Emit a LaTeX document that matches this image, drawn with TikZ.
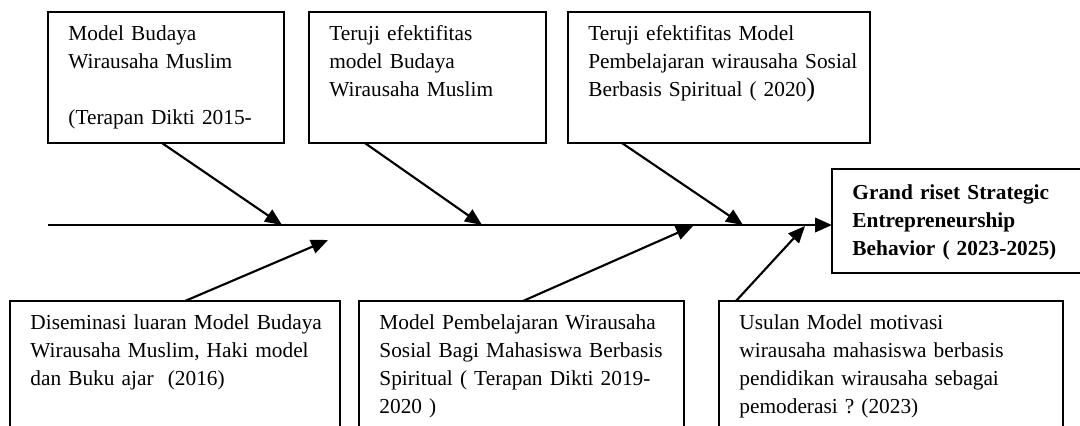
\documentclass[tikz,border=0pt]{standalone}
\usepackage{fontspec}
\setmainfont{Liberation Serif}
\usetikzlibrary{positioning, calc, arrows.meta}
\frenchspacing

\begin{document}
\begin{tikzpicture}[x=0.5625pt, y=-0.5625pt,
    fishbox/.style={draw, line width=0.9pt, inner sep=0pt, outer sep=0pt,
        align=left, font=\fontsize{12}{15.75}\selectfont,
        text height=16.3pt, execute at begin node={\leftskip=11.5pt}},
    upper/.style={fishbox, text depth=57.4pt},
    lower/.style={fishbox, text depth=64.7pt},
    bone/.style={line width=1.2pt, -{Triangle[length=9.5pt, width=8pt]}},
]
\useasboundingbox (0,0) rectangle (1080,425);
\clip (0,0) rectangle (1080,425);

% upper row
\node (BWM) [upper, text width=132.75pt, anchor=north west] at (48,12)
    {Model Budaya\\ Wirausaha Muslim\\[15.75pt] (Terapan Dikti 2015-};
\node (TEB) [upper, text width=133.3pt, right=14pt of BWM]
    {Teruji efektifitas\\ model Budaya\\ Wirausaha Muslim};
\node (TEP) [upper, text width=169.9pt, right=12.4pt of TEB]
    {Teruji efektifitas Model\\ Pembelajaran wirausaha Sosial\\
     Berbasis Spiritual ( 2020{\fontsize{15}{15.75}\selectfont)}};

% head
\node (GR) [fishbox, text width=150.75pt, anchor=north west,
    font=\fontsize{12}{15.75}\selectfont\bfseries,
    text height=17.4pt, text depth=41.1pt] at (832,169)
    {Grand riset Strategic\\ Entrepreneurship\\ Behavior ( 2023-2025)};

% lower row
\node (DIS) [lower, text width=185.6pt, anchor=north west] at (10,301)
    {Diseminasi luaran Model Budaya\\ Wirausaha Muslim, Haki model\\
     dan Buku ajar\ \ (2016)};
\node (PWS) [lower, text width=182.8pt, right=10.7pt of DIS]
    {Model Pembelajaran Wirausaha\\ Sosial Bagi Mahasiswa Berbasis\\
     Spiritual ( Terapan Dikti 2019-\\ 2020 )};
\node (UMM) [lower, text width=193.5pt, right=19.7pt of PWS]
    {Usulan Model motivasi\\ wirausaha mahasiswa berbasis\\
     pendidikan wirausaha sebagai\\ pemoderasi ? (2023)};

% spine
\coordinate (tail) at (48,225);
\coordinate (s1) at (282,225);
\coordinate (s2) at (482,225);
\coordinate (s3) at (743,225);
\coordinate (r1) at (328,240);
\coordinate (r2) at (693,226);
\coordinate (r3) at (805,226);
\draw[bone, line width=1.5pt] (tail) -- (tail -| GR.west);

\draw[bone] ($(BWM.south west)+(114,0)$) -- (s1);
\draw[bone] ($(TEB.south west)+(56,0)$) -- (s2);
\draw[bone] ($(TEP.south west)+(54,0)$) -- (s3);
\draw[bone] ($(DIS.north west)+(175,0)$) -- (r1);
\draw[bone] ($(PWS.north west)+(164,0)$) -- (r2);
\draw[bone] ($(UMM.north west)+(17,0)$) -- (r3);
\end{tikzpicture}
\end{document}
